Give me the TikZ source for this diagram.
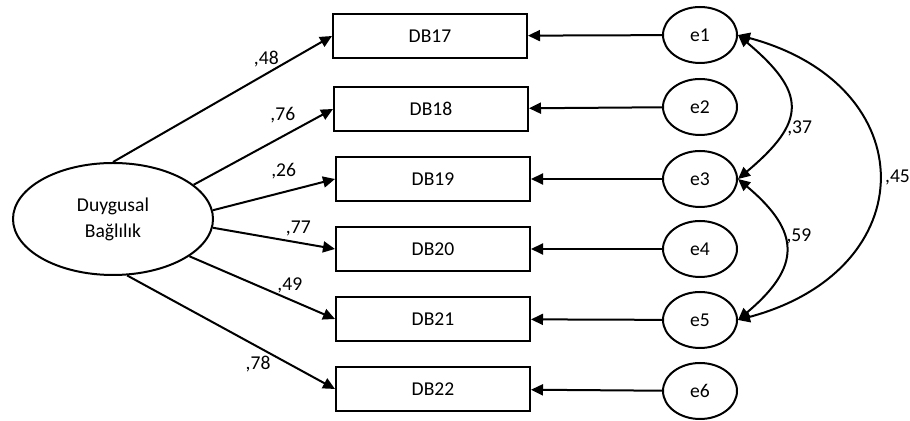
\documentclass[tikz,border=0pt]{standalone}
\usepackage{fontspec}
\setmainfont{Carlito}
\usepackage{tikz}
\usetikzlibrary{arrows.meta,shapes,positioning,calc}

\begin{document}
\begin{tikzpicture}[x=0.5pt,y=-0.5pt,line width=1pt,
    font=\fontsize{9.8}{13}\selectfont,
    latent/.style={draw,ellipse,minimum width=100pt,minimum height=56pt,inner sep=0pt,align=center},
    obs/.style={draw,rectangle,minimum width=97pt,minimum height=22pt,inner sep=0pt},
    err/.style={draw,ellipse,minimum width=37pt,minimum height=28pt,inner sep=0pt},
    arr/.style={-{Triangle[length=6pt,width=5.5pt]}},
    darr/.style={{Triangle[length=6pt,width=5.5pt]}-{Triangle[length=6pt,width=5.5pt]}},
    lab/.style={inner sep=1pt}]
    \useasboundingbox (0,0) rectangle (910,421);

    % 潜变量
    \node[latent] (dy) at (113,219) {Duygusal\\Bağlılık};

    % 观测变量
    \foreach \i/\x/\y in {17/430/36,18/431/109,19/433/179,20/433/249,21/433/319,22/433/389} {
        \node[obs] (db\i) at (\x,\y) {DB\i};
    }

    % 误差项
    \foreach \i/\y in {1/35,2/107,3/179,4/249,5/320,6/391} {
        \node[err] (e\i) at (700,\y) {e\i};
    }

    % 因子载荷
    \draw[arr] (dy.90) -- (db17.west) node[lab,pos=0.7,above=2pt] {,48};
    \draw[arr] (dy.23) -- (db18.west) node[lab,pos=0.64,above=5pt] {,76};
    \draw[arr] (dy.5) -- (db19.west) node[lab,pos=0.58,above=5pt] {,26};
    \draw[arr] (dy.-5) -- (db20.west) node[lab,pos=0.7,above=2pt] {,77};
    \draw[arr] (dy.-26) -- (db21.west) node[lab,pos=0.69,above=2pt] {,49};
    \draw[arr] (dy.-76) -- (db22.west) node[lab,pos=0.63,below=3pt] {,78};

    % 误差 -> 指标
    \foreach \i/\j in {1/17,2/18,3/19,4/20,5/21,6/22} {
        \draw[arr] (e\i) -- (db\j);
    }

    % 误差协方差
    \draw[darr] (e1.east) to[out=-40,in=40,looseness=1.6] node[lab,pos=0.66,right] {,37} (e3.east);
    \draw[darr] (e3.east) to[out=-40,in=40,looseness=1.5] node[lab,pos=0.4,right] {,59} (e5.east);
    \draw[darr] (e1.east) to[out=-15,in=15,looseness=1.74] node[lab,pos=0.5,right=2pt] {,45} (e5.east);
\end{tikzpicture}
\end{document}
